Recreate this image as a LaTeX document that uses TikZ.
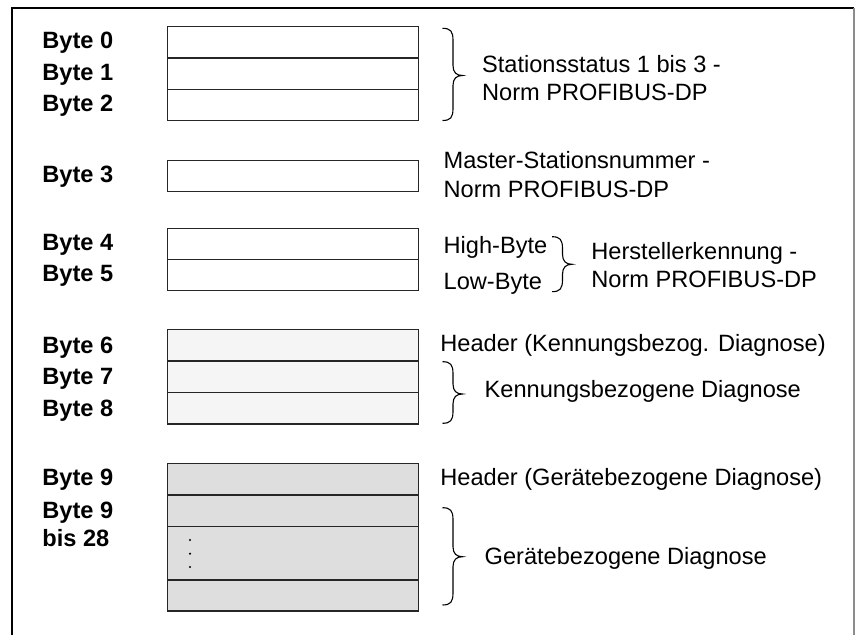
\documentclass[tikz,border=0pt]{standalone}
\usepackage{fontspec}
\setmainfont{Liberation Sans}
\definecolor{lightfill}{HTML}{F5F5F5}
\definecolor{midfill}{HTML}{DEDEDE}
\definecolor{framegray}{HTML}{8C8C8C}
\newcommand\bracepath[4]{%
  \draw[bracestyle] (#1,#2) .. controls (#1+8,#2) and (#1+10.5,#2+3) .. (#1+10.5,#2+12)
    -- (#1+10.5,#3-10) .. controls (#1+10.5,#3-3) and (#1+14,#3) .. (#1+20,#3)
    .. controls (#1+14,#3) and (#1+10.5,#3+3) .. (#1+10.5,#3+10)
    -- (#1+10.5,#4-12) .. controls (#1+10.5,#4-3) and (#1+8,#4) .. (#1,#4);}
\begin{document}
\begin{tikzpicture}[x=0.5pt,y=-0.5pt,
  cell/.style={draw=black!85, line width=0.65pt, anchor=north west, inner sep=0pt,
    minimum width=125.5pt},
  lbl/.style={anchor=base west, inner sep=0pt, font=\fontsize{11.8}{14}\selectfont\bfseries},
  txt/.style={anchor=base west, inner sep=0pt, font=\fontsize{11.8}{14}\selectfont},
  bracestyle/.style={line width=0.55pt, black}]
\useasboundingbox (0,0) rectangle (855,635);
% frame
\draw[line width=1pt] (12,635) -- (12,8) -- (854,8);
\draw[framegray, line width=1pt] (854,8) -- (854,635);
% group 1
\node[cell, minimum height=15.67pt] (b0) at (167,26) {};
\node[cell, minimum height=15.67pt] (b1) at (167,57.33) {};
\node[cell, minimum height=15.67pt] (b2) at (167,88.67) {};
% byte 3
\node[cell, minimum height=15.5pt] (b3) at (167,160) {};
% group 3
\node[cell, minimum height=15.5pt] (b4) at (167,228) {};
\node[cell, minimum height=15.5pt] (b5) at (167,259) {};
% group 4
\node[cell, fill=lightfill, minimum height=15.72pt] (b6) at (167,329) {};
\node[cell, fill=lightfill, minimum height=15.72pt] (b7) at (167,360.43) {};
\node[cell, fill=lightfill, minimum height=15.72pt] (b8) at (167,391.87) {};
% group 5
\node[cell, fill=midfill, minimum height=15.8pt] (b9) at (167,462.7) {};
\node[cell, fill=midfill, minimum height=15.85pt] (b10) at (167,494.3) {};
\node[cell, fill=midfill, minimum height=26.65pt] (b11) at (167,526) {};
\node[cell, fill=midfill, minimum height=15.5pt] (b12) at (167,579.3) {};
\foreach \yy in {540,553.7,567} \fill (190,\yy) circle (0.6pt);
% left labels
\node[lbl] (l0) at (42,49) {Byte 0};
\node[lbl] (l1) at (42,80.5) {Byte 1};
\node[lbl] (l2) at (42,111.5) {Byte 2};
\node[lbl] (l3) at (42,182.7) {Byte 3};
\node[lbl] (l4) at (42,250.7) {Byte 4};
\node[lbl] (l5) at (42,281.7) {Byte 5};
\node[lbl] (l6) at (42,354) {Byte 6};
\node[lbl] (l7) at (42,385) {Byte 7};
\node[lbl] (l8) at (42,416.7) {Byte 8};
\node[lbl] (l9) at (42,485) {Byte 9};
\node[lbl] (l10) at (42,518.3) {Byte 9};
\node[lbl] (l11) at (42,546) {bis 28};
% right texts
\bracepath{442.5}{28.3}{75.5}{120.5}
\node[txt] (t1a) at (481.7,72.7) {Stationsstatus 1 bis 3 -};
\node[txt] (t1b) at (481.7,100.7) {Norm PROFIBUS-DP};
\node[txt] (t2a) at (443.3,168.3) {Master-Stationsnummer -};
\node[txt] (t2b) at (443.3,197.7) {Norm PROFIBUS-DP};
\node[txt] (t3a) at (443.3,253.3) {High-Byte};
\node[txt] (t3b) at (443.3,289.3) {Low-Byte};
\bracepath{552}{236.7}{264.3}{291.7}
\node[txt] (t3c) at (591,260) {Herstellerkennung -};
\node[txt] (t3d) at (591,287.3) {Norm PROFIBUS-DP};
\node[txt] (t4a) at (440,351.7) {Header (Kennungsbezog. Diagnose)};
\bracepath{442.5}{361.7}{394}{423.3}
\node[txt] (t4b) at (484.3,397.7) {Kennungsbezogene Diagnose};
\node[txt] (t5a) at (440,485.7) {Header (Gerätebezogene Diagnose)};
\bracepath{442.5}{507.7}{556.7}{605}
\node[txt] (t5b) at (484.3,564.3) {Gerätebezogene Diagnose};
\end{tikzpicture}
\end{document}
